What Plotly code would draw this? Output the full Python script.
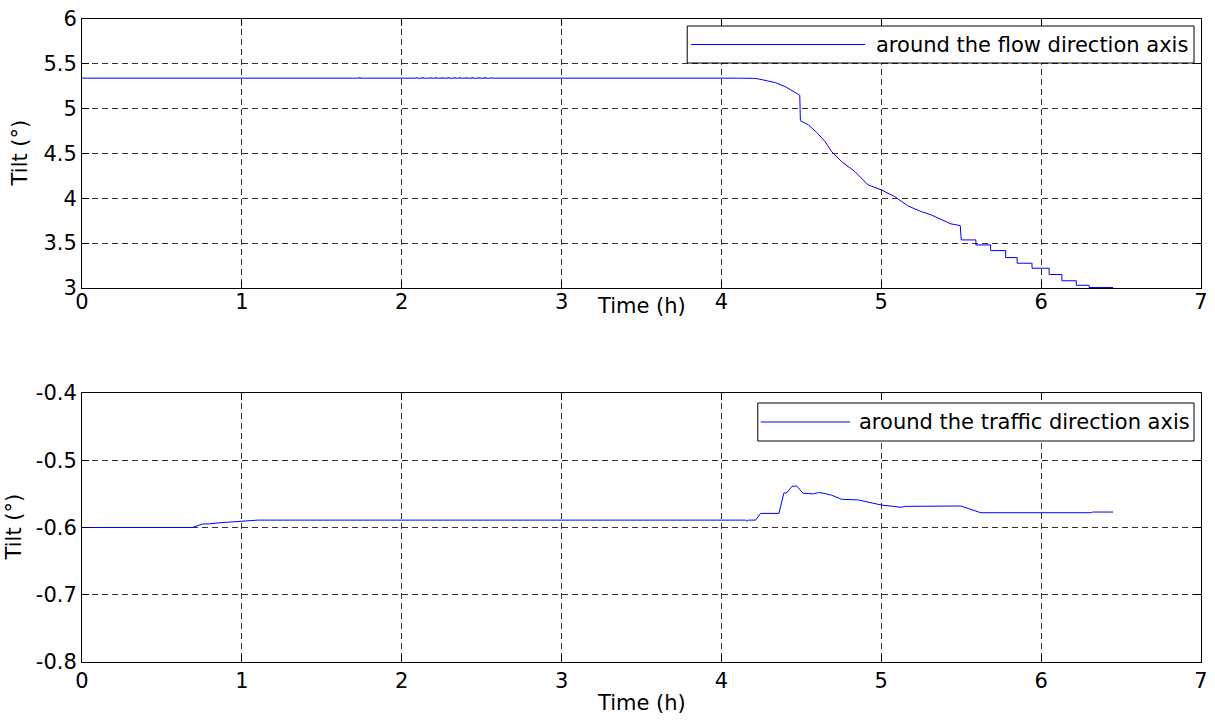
import plotly.graph_objects as go

# ---------------- data ----------------
time_flow = [0.00, 1.736, 1.738, 1.740,
             2.090, 2.092, 2.094, 2.130, 2.132, 2.134, 2.180, 2.182, 2.184,
             2.215, 2.217, 2.219, 2.250, 2.252, 2.254, 2.290, 2.292, 2.294,
             2.330, 2.332, 2.334, 2.360, 2.362, 2.364, 2.400, 2.402, 2.404,
             2.440, 2.442, 2.444, 2.480, 2.482, 2.484, 2.520, 2.522, 2.524,
             2.560, 2.562, 2.564,
             4.10, 4.16, 4.20, 4.234, 4.29, 4.338, 4.40, 4.452, 4.479, 4.490,
             4.494, 4.545, 4.597, 4.649, 4.690, 4.752, 4.835, 4.918, 5.001,
             5.084, 5.167, 5.250, 5.312, 5.374, 5.436, 5.494, 5.500, 5.592,
             5.592, 5.684, 5.684, 5.778, 5.778, 5.850, 5.850, 5.943, 5.943,
             6.050, 6.050, 6.130, 6.130, 6.220, 6.220, 6.300, 6.300, 6.450]
tilt_flow = [5.340, 5.340, 5.352, 5.340,
             5.340, 5.350, 5.340, 5.340, 5.352, 5.340, 5.340, 5.350, 5.340,
             5.340, 5.352, 5.340, 5.340, 5.350, 5.340, 5.340, 5.352, 5.340,
             5.340, 5.350, 5.340, 5.340, 5.352, 5.340, 5.340, 5.350, 5.340,
             5.340, 5.352, 5.340, 5.340, 5.350, 5.340, 5.340, 5.352, 5.340,
             5.340, 5.350, 5.340,
             5.340, 5.343, 5.338, 5.331, 5.312, 5.290, 5.245, 5.190, 5.153, 5.150,
             4.866, 4.818, 4.733, 4.632, 4.520, 4.409, 4.298, 4.149, 4.094,
             4.019, 3.915, 3.852, 3.815, 3.767, 3.715, 3.696, 3.536, 3.536,
             3.480, 3.480, 3.417, 3.417, 3.339, 3.339, 3.276, 3.276, 3.220,
             3.220, 3.150, 3.150, 3.080, 3.080, 3.030, 3.030, 3.005, 3.005]

time_traffic = [0.00, 0.69, 0.754, 0.80, 0.857, 0.94, 1.02, 1.10, 4.15,
                4.16, 4.17, 4.214, 4.245, 4.36, 4.39, 4.41, 4.44, 4.47, 4.51,
                4.576, 4.607, 4.64, 4.69, 4.752, 4.856, 4.96, 5.00, 5.125,
                5.15, 5.498, 5.56, 5.622, 6.316, 6.32, 6.45]
tilt_traffic = [-0.600, -0.600, -0.5948, -0.5945, -0.593, -0.5914, -0.590,
                -0.589, -0.589, -0.5905, -0.589, -0.589, -0.579, -0.579,
                -0.549, -0.548, -0.539, -0.538, -0.549, -0.550, -0.548,
                -0.549, -0.552, -0.558, -0.559, -0.564, -0.5665, -0.570,
                -0.5685, -0.568, -0.573, -0.578, -0.578, -0.577, -0.577]

x_ticks = [0, 1, 2, 3, 4, 5, 6, 7]
y1_ticks = [3, 3.5, 4, 4.5, 5, 5.5, 6]
y1_labels = ["3", "3.5", "4", "4.5", "5", "5.5", "6"]
y2_ticks = [-0.8, -0.7, -0.6, -0.5, -0.4]
y2_labels = ["-0.8", "-0.7", "-0.6", "-0.5", "-0.4"]

name_flow = "around the flow direction axis"
name_traffic = "around the traffic direction axis"
x_title = "Time (h)"
y_title = "Tilt (°)"

# ---------------- figure ----------------
FONT = "DejaVu Sans"
FS = 21

fig = go.Figure()
fig.add_trace(go.Scatter(x=time_flow, y=tilt_flow, mode="lines",
                         line=dict(color="#0000ff", width=1),
                         name=name_flow, xaxis="x", yaxis="y",
                         showlegend=False, hoverinfo="skip"))
fig.add_trace(go.Scatter(x=time_traffic, y=tilt_traffic, mode="lines",
                         line=dict(color="#0000ff", width=1),
                         name=name_traffic, xaxis="x2", yaxis="y2",
                         showlegend=False, hoverinfo="skip"))

common = dict(showline=True, linecolor="black", linewidth=1, mirror="ticks",
              ticks="inside", ticklen=7, tickcolor="black", tickwidth=1,
              showgrid=True, gridcolor="#333333", gridwidth=1,
              griddash="6px,4px", zeroline=False,
              tickfont=dict(family=FONT, size=FS, color="black"))

top_dom = [0.5817, 1.0]
bot_dom = [0.0, 0.4183]

fig.update_layout(
    width=1215, height=723,
    margin=dict(l=82, r=7, t=19, b=61, pad=0),
    paper_bgcolor="white", plot_bgcolor="white",
    font=dict(family=FONT, size=FS, color="black"),
    xaxis=dict(common, range=[0, 7], tickvals=x_ticks, domain=[0, 1], anchor="y",
               ticklabelstandoff=-5),
    yaxis=dict(common, range=[3, 6], tickvals=y1_ticks, ticktext=y1_labels,
               domain=top_dom, anchor="x"),
    xaxis2=dict(common, range=[0, 7], tickvals=x_ticks, domain=[0, 1], anchor="y2"),
    yaxis2=dict(common, range=[-0.8, -0.4], tickvals=y2_ticks, ticktext=y2_labels,
                domain=bot_dom, anchor="x2"),
)

def px_x(p):
    return (p - 82) / 1126.0

def px_y(p):
    return (662 - p) / 643.0

shapes = []
annotations = []

# manual legends (box, line sample, text)
for (bx0, by0, bx1, by1, lx0, lx1, tx, label) in [
        (691, 26, 1201, 63, 695, 870, 879, name_flow),
        (762, 403, 1201, 441, 765, 855, 862, name_traffic)]:
    shapes.append(dict(type="rect", xref="paper", yref="paper",
                       x0=px_x(bx0), x1=px_x(bx1), y0=px_y(by1), y1=px_y(by0),
                       line=dict(color="black", width=1), fillcolor="white",
                       layer="above"))
    ym = px_y((by0 + by1) / 2)
    shapes.append(dict(type="line", xref="paper", yref="paper",
                       x0=px_x(lx0), x1=px_x(lx1), y0=ym, y1=ym,
                       line=dict(color="#0000ff", width=1), layer="above"))
    annotations.append(dict(text=label, xref="paper", yref="paper",
                            x=px_x(tx), y=ym, xanchor="left", yanchor="middle",
                            showarrow=False,
                            font=dict(family=FONT, size=FS, color="black")))

# axis titles
for (yc_x, yc_y, xt_y) in [(20, 153, 306), (14, 527, 703)]:
    annotations.append(dict(text=x_title, xref="paper", yref="paper",
                            x=px_x(645), y=px_y(xt_y), xanchor="center",
                            yanchor="middle", showarrow=False,
                            font=dict(family=FONT, size=FS, color="black")))
    annotations.append(dict(text=y_title, xref="paper", yref="paper",
                            x=px_x(yc_x), y=px_y(yc_y), xanchor="center",
                            yanchor="middle", textangle=-90, showarrow=False,
                            font=dict(family=FONT, size=FS, color="black")))

fig.update_layout(shapes=shapes, annotations=annotations)

fig.write_html("out.html")
